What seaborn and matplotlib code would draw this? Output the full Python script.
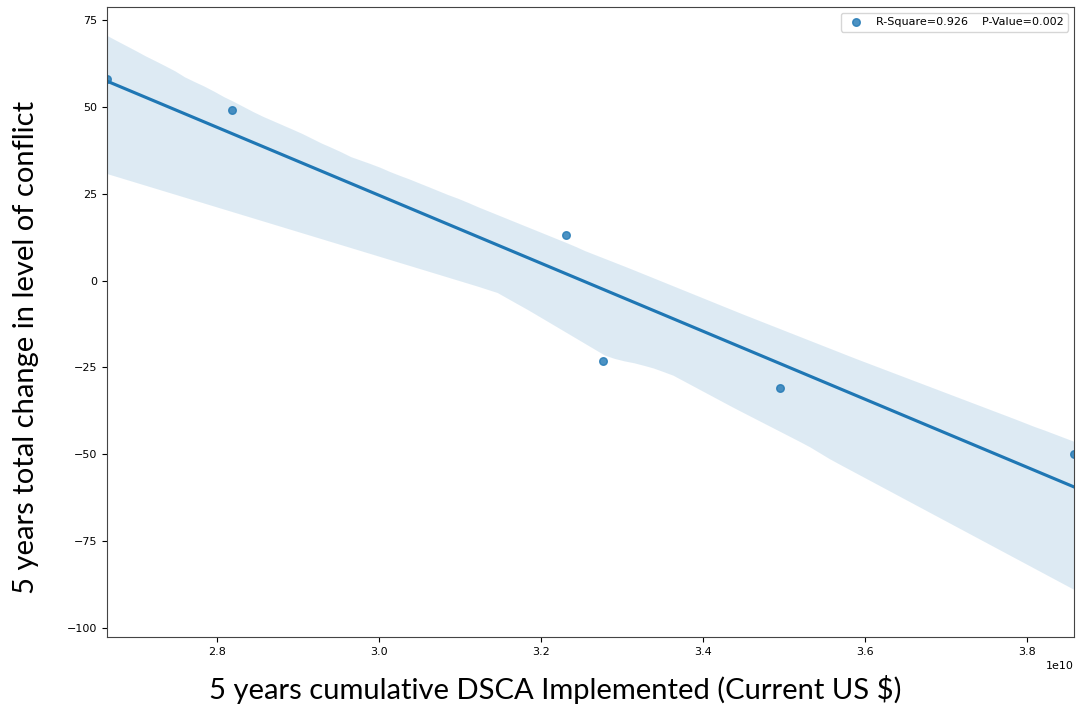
import numpy as np
import pandas as pd
import matplotlib
matplotlib.use("Agg")
import matplotlib.pyplot as plt
import seaborn as sns

# data
dsca_implemented = [2.664e10, 2.8185e10, 3.231e10, 3.2765e10, 3.495e10, 3.858e10]
conflict_change = [58, 49, 13, -23, -31, -50]
legend_label = "R-Square=0.926    P-Value=0.002"
x_title = "5 years cumulative DSCA Implemented (Current US $)"
y_title = "5 years total change in level of conflict"

df = pd.DataFrame({"dsca": dsca_implemented, "conflict": conflict_change})

label_font = ["Lato", "DejaVu Sans"]

fig = plt.figure(figsize=(10.76, 7.06), dpi=100)
ax = fig.add_axes([0.0994, 0.0977, 0.8987, 0.892])

sns.regplot(data=df, x="dsca", y="conflict", ax=ax, ci=95, n_boot=1000, seed=3,
            label=legend_label, scatter_kws={"s": 30})

ax.set_xlim(min(dsca_implemented), max(dsca_implemented))
ax.set_ylim(-102.6, 78.7)
ax.set_yticks([-100, -75, -50, -25, 0, 25, 50, 75])
ax.tick_params(labelsize=8)
ax.xaxis.get_offset_text().set_fontsize(8)
for s in ax.spines.values():
    s.set_color("#444444")

ax.set_xlabel(x_title, fontsize=21, family=label_font)
ax.set_ylabel(y_title, fontsize=21, family=label_font)
ax.xaxis.set_label_coords(0.464, -0.06)
ax.yaxis.set_label_coords(-0.07, 0.46)
ax.legend(loc="upper right", fontsize=8)

fig.savefig("out.png", dpi=100)
